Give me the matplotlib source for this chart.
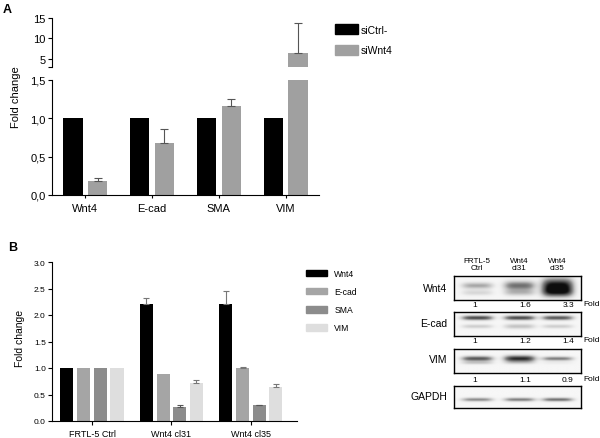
import numpy as np
import matplotlib.pyplot as plt
from matplotlib.patches import Patch

plt.rcParams['font.family'] = ['Liberation Sans', 'DejaVu Sans']

W, H = 600, 439

# ---- panel A data ----
genes_a = ['Wnt4', 'E-cad', 'SMA', 'VIM']
si_ctrl = [1.0, 1.0, 1.0, 1.0]
si_wnt4 = [0.18, 0.68, 1.16, 6.45]
si_wnt4_err = [0.04, 0.18, 0.09, 7.25]

# ---- panel B data ----
groups_b = ['FRTL-5 Ctrl', 'Wnt4 cl31', 'Wnt4 cl35']
markers_b = ['Wnt4', 'E-cad', 'SMA', 'VIM']
wnt4_b = [1.0, 2.2, 2.2]
wnt4_b_err = [0.0, 0.13, 0.25]
ecad_b = [1.0, 0.88, 1.0]
ecad_b_err = [0.0, 0.0, 0.01]
sma_b = [1.0, 0.26, 0.30]
sma_b_err = [0.0, 0.05, 0.005]
vim_b = [1.0, 0.72, 0.65]
vim_b_err = [0.0, 0.06, 0.04]

# ---- western blot ----
lanes = ['FRTL-5\nCtrl', 'Wnt4\ncl31', 'Wnt4\ncl35']
blot_rows = ['Wnt4', 'E-cad', 'VIM', 'GAPDH']
fold_wnt4 = ['1', '1.6', '3.3']
fold_ecad = ['1', '1.2', '1.4']
fold_vim = ['1', '1.1', '0.9']
# band strength per lane (read from the blot)
band_wnt4 = [0.4, 0.6, 0.95]
band_ecad = [0.75, 0.75, 0.7]
band_vim = [0.7, 0.85, 0.55]
band_gapdh = [0.5, 0.55, 0.6]

fig = plt.figure(figsize=(W / 100, H / 100), dpi=100)


def px_axes(x0, y0, x1, y1):
    return fig.add_axes([x0 / W, 1 - y1 / H, (x1 - x0) / W, (y1 - y0) / H])


def style(ax, fs):
    for s in ['top', 'right']:
        ax.spines[s].set_visible(False)
    for s in ['left', 'bottom']:
        ax.spines[s].set_linewidth(0.8)
    ax.tick_params(labelsize=fs, width=0.8, length=3, pad=1.5)


def up_err(ax, xs, ys, es, color, cap):
    xs, ys, es = np.asarray(xs), np.asarray(ys), np.asarray(es)
    keep = es > 0
    ax.errorbar(xs[keep], ys[keep], yerr=[np.zeros(keep.sum()), es[keep]], fmt='none',
                ecolor=color, elinewidth=0.8, capsize=cap, capthick=0.8)


# ================= panel A =================
ax_top = px_axes(52, 19, 319, 67.7)
ax_low = px_axes(52, 81, 319, 196)
x = np.arange(len(genes_a))
bw = 0.29
for ax in (ax_top, ax_low):
    ax.bar(x - 0.185, si_ctrl, bw, color='black', label='siCtrl-')
    ax.bar(x + 0.185, si_wnt4, bw, color='#a0a0a0', label='siWnt4')
    up_err(ax, x + 0.185, si_wnt4, si_wnt4_err, '#555555', 3)
    ax.set_xlim(-0.5, 3.5)
    style(ax, 8)

ax_top.set_ylim(3, 15)
ax_top.set_yticks([3, 5, 10, 15], ['', '5', '10', '15'])
ax_top.spines['bottom'].set_visible(False)
ax_top.set_xticks([])

ax_low.set_ylim(0, 1.5)
ax_low.set_yticks([0, 0.5, 1.0, 1.5], ['0,0', '0,5', '1,0', '1,5'])
ax_low.set_xticks(x, genes_a)
ax_low.tick_params(axis='x', length=2, pad=4)
fig.text(16 / W, 1 - 97 / H, 'Fold change', rotation=90, fontsize=8,
         ha='center', va='center')
fig.text(3 / W, 1 - 10 / H, 'A', fontsize=9, fontweight='bold', va='center')

handles_a = [Patch(color='black', label='siCtrl-'), Patch(color='#a0a0a0', label='siWnt4')]
fig.legend(handles=handles_a, loc='upper left', bbox_to_anchor=(335 / W, 1 - 25 / H),
           frameon=False, fontsize=7.5, handlelength=2.2, handleheight=1.1,
           handletextpad=0.3, labelspacing=1.0, borderaxespad=0, borderpad=0)

# ================= panel B =================
ax_b = px_axes(52, 263, 297, 422)
xb = np.arange(len(groups_b))
cols_b = ['black', '#a5a5a5', '#8c8c8c', '#dedede']
ecols_b = ['#777777', '#777777', '#555555', '#777777']
vals_b = [wnt4_b, ecad_b, sma_b, vim_b]
errs_b = [wnt4_b_err, ecad_b_err, sma_b_err, vim_b_err]
offs = [-0.315, -0.105, 0.105, 0.315]
for v, e, c, ec, o, m in zip(vals_b, errs_b, cols_b, ecols_b, offs, markers_b):
    ax_b.bar(xb + o, v, 0.165, color=c, label=m)
    up_err(ax_b, xb + o, v, e, ec, 2.5)
ax_b.set_xlim(-0.503, 2.58)
ax_b.set_ylim(0, 3)
yt = np.arange(0, 3.01, 0.5)
ax_b.set_yticks(yt, [f'{t:.1f}' for t in yt])
ax_b.set_xticks(xb, groups_b)
style(ax_b, 6)
ax_b.tick_params(axis='x', labelsize=6.5, pad=2.5)
fig.text(20 / W, 1 - 338 / H, 'Fold change', rotation=90, fontsize=7.5,
         ha='center', va='center')
fig.text(8 / W, 1 - 248 / H, 'B', fontsize=9, fontweight='bold', va='center')

handles_b = [Patch(color=c, label=m) for c, m in zip(cols_b, markers_b)]
fig.legend(handles=handles_b, loc='upper left', bbox_to_anchor=(306 / W, 1 - 270 / H),
           frameon=False, fontsize=6.2, handlelength=2.4, handleheight=0.85,
           handletextpad=0.9, labelspacing=1.05, borderaxespad=0, borderpad=0)

# ================= western blot =================
box_x0, box_x1 = 454, 581
boxes = [(277, 301), (313, 337), (350, 374), (387, 409)]
label_y = [289, 324, 360, 397]
lane_c = np.array([0.55, 1.55, 2.45])

for xc, name in zip([477, 519, 557], lanes):
    fig.text(xc / W, 1 - 265 / H, name, fontsize=5.8, ha='center', va='center',
             linespacing=1.0)


def band(arr, xx, yy, lane, amp, y0, th, w=0.38):
    arr += amp * np.exp(-((xx - lane) / w) ** 4) * np.exp(-((yy - y0) / th) ** 2)


specs = [
    [(band_wnt4, 0.4, [0.14, 0.2, 0.32]), ([0.2, 0.3, 0.55], 0.7, [0.12, 0.14, 0.2])],
    [(band_ecad, 0.24, [0.1, 0.1, 0.1]), ([0.25, 0.3, 0.25], 0.6, [0.09, 0.11, 0.09])],
    [(band_vim, 0.4, [0.11, 0.14, 0.09]), ([0.25, 0.15, 0.08], 0.58, [0.07, 0.07, 0.07])],
    [(band_gapdh, 0.62, [0.09, 0.09, 0.09])],
]

for (y0, y1), ly, name, spec in zip(boxes, label_y, blot_rows, specs):
    ax = px_axes(box_x0, y0, box_x1, y1)
    xx, yy = np.meshgrid(np.linspace(0, 3, 300), np.linspace(0, 1, 60))
    arr = np.full(xx.shape, 0.07)
    for amps, yc, ths in spec:
        for lane, a, t in zip(lane_c, amps, ths):
            band(arr, xx, yy, lane, a, yc, t)
    ax.imshow(np.clip(arr, 0, 1), cmap='Greys', vmin=0, vmax=1.05, aspect='auto',
              extent=(0, 3, 1, 0), interpolation='bilinear')
    ax.set_xticks([])
    ax.set_yticks([])
    for s in ax.spines.values():
        s.set_linewidth(1.0)
    fig.text(447 / W, 1 - ly / H, name, fontsize=7.5, ha='right', va='center')

for yv, folds in zip([306, 342, 381], [fold_wnt4, fold_ecad, fold_vim]):
    for xc, f in zip([475, 525, 568], folds):
        fig.text(xc / W, 1 - yv / H, f, fontsize=6, ha='center', va='center')
    fig.text(583 / W, 1 - (yv - 1) / H, 'Fold', fontsize=6, ha='left', va='center')

fig.savefig('out.png', dpi=100)
